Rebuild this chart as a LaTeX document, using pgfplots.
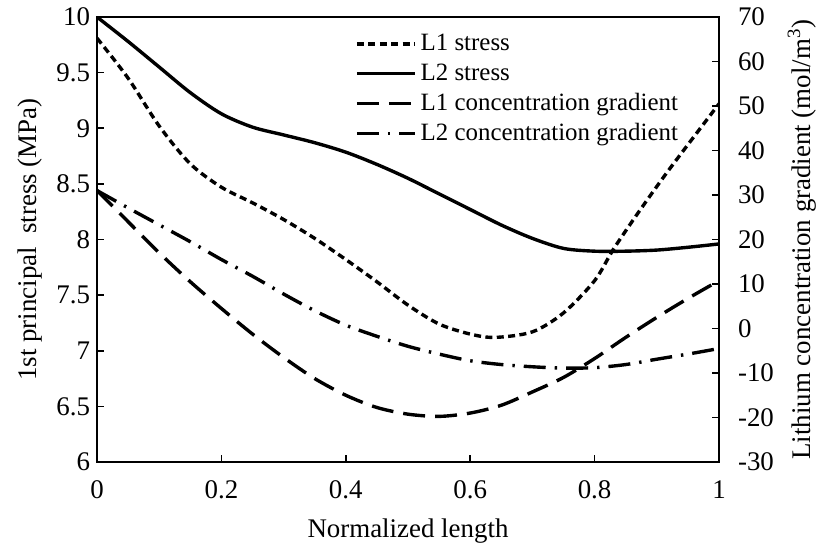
\documentclass[border=0pt]{standalone}
\usepackage{pgfplots}
\pgfplotsset{compat=1.18}
\usepackage{fontspec}
\setmainfont{Liberation Serif}
\usetikzlibrary{calc}

\pgfplotstableread{
x y
0 9.81
0.05 9.45
0.1 9.02
0.15 8.68
0.2 8.47
0.25 8.33
0.3 8.18
0.35 8.01
0.4 7.82
0.45 7.62
0.5 7.41
0.55 7.24
0.6 7.15
0.64 7.12
0.7 7.17
0.75 7.34
0.8 7.63
0.83 7.91
0.87 8.24
0.92 8.63
1 9.22
}\lonestress

\pgfplotstableread{
x y
0 10
0.05 9.78
0.1 9.55
0.15 9.32
0.2 9.13
0.25 9.01
0.3 8.94
0.35 8.87
0.4 8.785
0.45 8.675
0.5 8.55
0.55 8.41
0.6 8.27
0.65 8.13
0.7 8.01
0.75 7.92
0.8 7.895
0.85 7.895
0.9 7.905
0.95 7.93
1 7.96
}\ltwostress

\pgfplotstableread{
x y
0 31
0.05 24
0.1 17
0.15 10.5
0.2 4.5
0.25 -1.25
0.3 -6.5
0.35 -11.25
0.4 -15
0.45 -17.75
0.5 -19.25
0.55 -19.75
0.6 -19
0.65 -17.25
0.7 -14.25
0.75 -11
0.8 -6.75
0.85 -2
0.9 2.5
0.95 6.75
1 10.75
}\loneconc

\pgfplotstableread{
x y
0 31
0.05 27.1
0.1 23.3
0.15 19.5
0.2 15.5
0.25 11.75
0.3 7.75
0.35 4
0.4 0.75
0.45 -1.75
0.5 -4
0.55 -5.75
0.6 -7.25
0.65 -8.1
0.7 -8.6
0.75 -8.9
0.8 -8.8
0.85 -8.1
0.9 -6.9
0.95 -5.75
1 -4.5
}\ltwoconc

\tikzset{
  sA/.style={line width=1.7pt, dash pattern=on 3.5bp off 2.2bp},
  sB/.style={line width=1.7pt, solid},
  sC/.style={line width=1.7pt, dash pattern=on 11bp off 5bp},
  sD/.style={line width=1.7pt, dash pattern=on 11bp off 4.5bp on 1.2bp off 4.5bp},
}

\begin{document}
\begin{tikzpicture}[font=\fontsize{13.5}{16}\selectfont]
\pgfplotsset{
  every axis/.append style={
    scale only axis, width=311bp, height=222.5bp,
    xmin=0, xmax=1,
    tick align=inside,
    major tick length=3.5bp,
    axis line style={line width=1pt},
    every tick/.style={black, line width=0.8pt},
    /pgf/number format/assume math mode=true,
  },
}
\begin{axis}[
  name=main,
  ymin=6, ymax=10,
  xtick={0,0.2,0.4,0.6,0.8,1},
  ytick={6,6.5,7,7.5,8,8.5,9,9.5,10},
  xtick pos=bottom, ytick pos=left,
  xticklabel style={yshift=-6bp},
  xlabel={Normalized length},
  ylabel={1st principal\ \ stress (MPa)},
  xlabel style={yshift=-3bp},
  yticklabel style={/pgf/number format/.cd, fixed, precision=1},
  legend style={draw=none, fill=none, at={(0.405,0.98)}, anchor=north west,
    row sep=1bp, font=\fontsize{12.5}{14}\selectfont,
    /tikz/every even column/.append style={column sep=0pt}},
  legend cell align=left,
  legend image code/.code={\draw[#1] (0bp,0bp) -- (29bp,0bp);},
]
\addplot[sA, smooth, tension=0.5] table {\lonestress};
\addlegendentry{L1 stress}
\addplot[sB, smooth, tension=0.5] table {\ltwostress};
\addlegendentry{L2 stress}
\addlegendimage{sC}
\addlegendentry{L1 concentration gradient}
\addlegendimage{sD}
\addlegendentry{L2 concentration gradient}
\end{axis}
\begin{axis}[
  ymin=-30, ymax=70,
  axis y line*=right, axis x line=none,
  ytick={-30,-20,...,70},
  ylabel={Lithium concentration gradient (mol/m\textsuperscript{3})},
  yticklabel style={xshift=6bp},
]
\addplot[sC, smooth, tension=0.5] table {\loneconc};
\addplot[sD, smooth, tension=0.5] table {\ltwoconc};
\end{axis}
\pgfresetboundingbox
\path ($(main.south west)+(-48.5bp,-43bp)$) rectangle ($(main.north east)+(48.5bp,8.5bp)$);
\end{tikzpicture}
\end{document}
